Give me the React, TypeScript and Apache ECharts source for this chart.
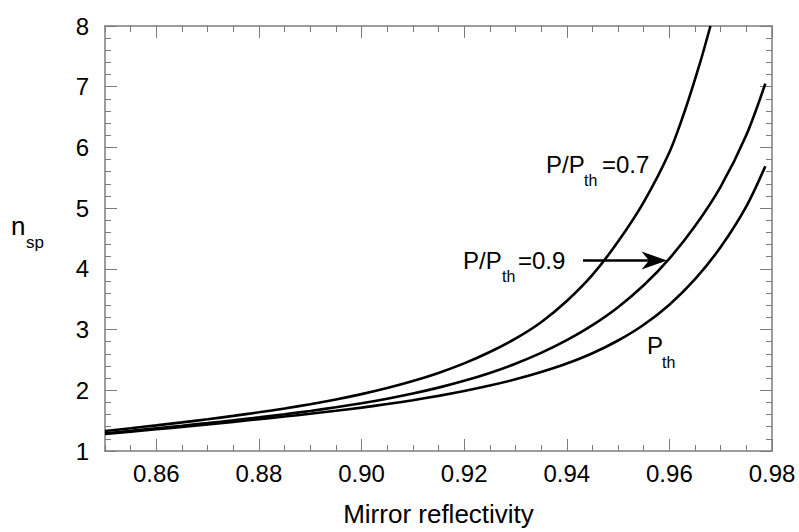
import React, { useEffect, useRef } from "react";
import * as echarts from "echarts";

// Tick labels
const xTickLabels = [0.86, 0.88, 0.9, 0.92, 0.94, 0.96, 0.98];
const yTickLabels = [1, 2, 3, 4, 5, 6, 7, 8];

// P/Pth = 0.7
const reflA = [0.85, 0.855, 0.86, 0.865, 0.87, 0.875, 0.88, 0.885, 0.89, 0.895, 0.9, 0.905, 0.91, 0.915, 0.92, 0.925, 0.93, 0.935, 0.94, 0.945, 0.95, 0.955, 0.96, 0.963, 0.966, 0.968];
const nspA = [1.33, 1.375, 1.422, 1.471, 1.523, 1.578, 1.637, 1.701, 1.771, 1.849, 1.937, 2.037, 2.152, 2.286, 2.443, 2.63, 2.85, 3.12, 3.47, 3.9, 4.45, 5.1, 5.92, 6.6, 7.4, 8.0];

// P/Pth = 0.9
const reflB = [0.85, 0.855, 0.86, 0.865, 0.87, 0.875, 0.88, 0.885, 0.89, 0.895, 0.9, 0.905, 0.91, 0.915, 0.92, 0.925, 0.93, 0.935, 0.94, 0.945, 0.95, 0.955, 0.96, 0.965, 0.97, 0.975, 0.9787];
const nspB = [1.29, 1.331, 1.373, 1.416, 1.46, 1.506, 1.554, 1.605, 1.66, 1.72, 1.787, 1.862, 1.947, 2.044, 2.156, 2.286, 2.438, 2.616, 2.826, 3.073, 3.369, 3.729, 4.169, 4.704, 5.354, 6.204, 7.05];

// P = Pth
const reflC = [0.85, 0.855, 0.86, 0.865, 0.87, 0.875, 0.88, 0.885, 0.89, 0.895, 0.9, 0.905, 0.91, 0.915, 0.92, 0.925, 0.93, 0.935, 0.94, 0.945, 0.95, 0.955, 0.96, 0.965, 0.97, 0.975, 0.9787];
const nspC = [1.28, 1.318, 1.357, 1.397, 1.438, 1.48, 1.523, 1.567, 1.613, 1.662, 1.715, 1.773, 1.837, 1.908, 1.988, 2.078, 2.18, 2.3, 2.44, 2.61, 2.82, 3.08, 3.41, 3.83, 4.36, 5.03, 5.69];

const FONT = "'Liberation Sans', Arial, Helvetica, sans-serif";
const GREY = "#7c7c7c";

export default function App() {
  const ref = useRef<HTMLDivElement>(null);
  useEffect(() => {
    const chart = echarts.init(ref.current!, null, { renderer: "svg" });
    const pairs = (xs: number[], ys: number[]) => xs.map((x, i) => [x, ys[i]]);
    const baseX = (position: string) => ({
      type: "value",
      position,
      min: 0.85,
      max: 0.98,
      interval: 0.01,
      splitLine: { show: false },
      axisLine: { show: true, onZero: false, lineStyle: { color: GREY, width: 1.5 } },
    });
    const shortX = (position: string) => ({
      ...baseX(position),
      axisTick: { show: true, inside: true, length: 6, lineStyle: { color: GREY, width: 1 } },
      minorTick: { show: true, splitNumber: 2, length: 6, lineStyle: { color: GREY, width: 1 } },
    });
    const longX = (position: string) => ({
      ...baseX(position),
      axisLine: { show: false, onZero: false },
      axisLabel: { show: false },
      axisTick: { show: true, inside: true, length: 12, customValues: xTickLabels, lineStyle: { color: GREY, width: 1 } },
    });
    const baseY = (position: string, showLabel: boolean) => ({
      type: "value",
      position,
      min: 1,
      max: 8,
      interval: 1,
      splitLine: { show: false },
      axisLine: { show: true, onZero: false, lineStyle: { color: GREY, width: 1.5 } },
      axisTick: { show: true, inside: true, length: 12, lineStyle: { color: GREY, width: 1 } },
      minorTick: { show: true, splitNumber: 5, length: 6, lineStyle: { color: GREY, width: 1 } },
      axisLabel: {
        show: showLabel,
        customValues: yTickLabels,
        fontSize: 24,
        fontFamily: FONT,
        color: "#000",
        margin: 16,
      },
    });
    const lineSeries = (name: string, xs: number[], ys: number[]) => ({
      type: "line",
      name,
      xAxisIndex: 0,
      yAxisIndex: 0,
      data: pairs(xs, ys),
      smooth: 0.3,
      showSymbol: false,
      symbol: "none",
      lineStyle: { color: "#000", width: 2.6 },
    });
    const txt = (text: string, x: number, y: number, size: number) => ({
      type: "text",
      x,
      y,
      style: {
        text,
        fontSize: size,
        fontFamily: FONT,
        fill: "#000",
        textAlign: "left",
        textVerticalAlign: "middle",
      },
    });
    chart.setOption({
      animation: false,
      backgroundColor: "#fff",
      grid: { left: 105, right: 27, top: 26, bottom: 77, containLabel: false },
      xAxis: [
        {
          ...shortX("bottom"),
          axisLabel: {
            show: true,
            customValues: xTickLabels,
            formatter: (v: number) => (Math.round(v * 100) % 2 === 0 ? v.toFixed(2) : ""),
            fontSize: 24,
            fontFamily: FONT,
            color: "#000",
            margin: 10,
          },
          name: "Mirror reflectivity",
          nameLocation: "middle",
          nameGap: 50,
          nameTextStyle: { fontSize: 26, fontFamily: FONT, color: "#000" },
        },
        longX("bottom"),
        { ...shortX("top"), axisLabel: { show: false } },
        longX("top"),
      ],
      yAxis: [baseY("left", true), baseY("right", false)],
      series: [
        lineSeries("P/Pth=0.7", reflA, nspA),
        lineSeries("P/Pth=0.9", reflB, nspB),
        lineSeries("Pth", reflC, nspC),
      ],
      graphic: [
        txt("n", 11, 226, 26),
        txt("sp", 26, 242, 17),
        txt("P/P", 546, 164, 24),
        txt("th", 584, 180, 16),
        txt("=0.7", 602, 164, 24),
        txt("P/P", 463, 260.5, 24),
        txt("th", 502, 276.5, 16),
        txt("=0.9", 518, 260.5, 24),
        txt("P", 647, 345, 24),
        txt("th", 662, 362, 16),
        {
          type: "line",
          shape: { x1: 583, y1: 260.5, x2: 652, y2: 260.5 },
          style: { stroke: "#000", lineWidth: 2.6 },
        },
        {
          type: "polygon",
          shape: { points: [[667, 260.5], [641.5, 251.5], [649, 260.5], [641.5, 269.5]] },
          style: { fill: "#000" },
        },
      ],
    });
    return () => chart.dispose();
  }, []);
  return (
    <div
      ref={ref}
      style={{ position: "fixed", left: 0, top: 0, width: 799, height: 532, background: "#fff" }}
    />
  );
}
